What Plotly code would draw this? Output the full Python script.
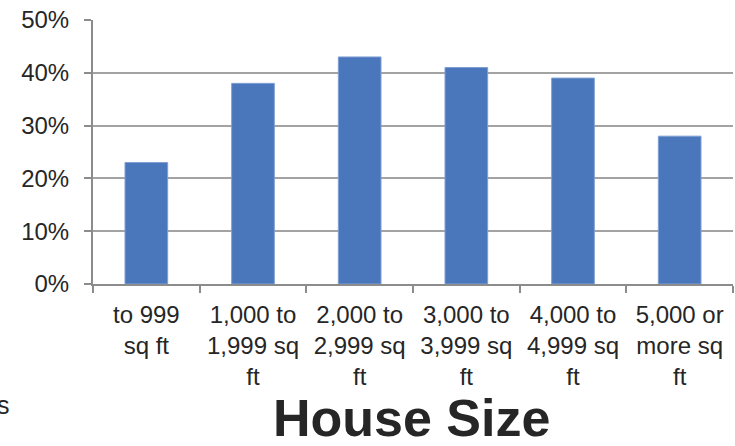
import plotly.graph_objects as go

categories = [
    "to 999<br>sq ft",
    "1,000 to<br>1,999 sq<br>ft",
    "2,000 to<br>2,999 sq<br>ft",
    "3,000 to<br>3,999 sq<br>ft",
    "4,000 to<br>4,999 sq<br>ft",
    "5,000 or<br>more sq<br>ft",
]
values = [0.23, 0.38, 0.43, 0.41, 0.39, 0.28]
y_ticks = [0, 0.1, 0.2, 0.3, 0.4, 0.5]
y_tick_labels = ["0%", "10%", "20%", "30%", "40%", "50%"]
title_text = "House Size"
stray_text = "s"

W, H = 735, 446
L, R, T, B = 93, 2, 20, 162
pw, ph = W - L - R, H - T - B

fig = go.Figure(go.Bar(
    x=categories, y=values,
    marker=dict(color="#4a76bb", line=dict(color="#7e9fd3", width=1)),
    hoverinfo="skip",
))

font = "Liberation Sans, Arial, sans-serif"
fig.update_layout(
    width=W, height=H,
    margin=dict(l=L, r=R, t=T, b=B),
    paper_bgcolor="white", plot_bgcolor="white",
    bargap=0.6, showlegend=False,
    font=dict(family=font, size=23, color="#262626"),
)
fig.update_yaxes(
    range=[0, 0.5], tickvals=y_ticks, ticktext=y_tick_labels,
    showgrid=True, gridcolor="#a3a3a3", gridwidth=1.5,
    showline=True, linecolor="#8c8c8c", linewidth=2,
    ticks="outside", ticklen=7, tickcolor="#8c8c8c", tickwidth=2,
    ticklabelstandoff=10, zeroline=False,
    tickfont=dict(size=24, color="#262626"),
)
fig.update_xaxes(
    showline=True, linecolor="#8c8c8c", linewidth=2,
    ticks="outside", tickson="boundaries", ticklen=7,
    tickcolor="#8c8c8c", tickwidth=2,
    ticklabelstandoff=8,
    tickfont=dict(size=24, color="#262626"),
)

def px_to_paper_x(px):
    return (px - L) / pw

def px_to_paper_y(py):
    return (H - B - py) / ph

fig.add_annotation(
    text=f"<b>{title_text}</b>", xref="paper", yref="paper",
    x=px_to_paper_x(411), y=px_to_paper_y(418), xanchor="center", yanchor="middle",
    showarrow=False, font=dict(family=font, size=52, color="#262626"),
)
fig.add_annotation(
    text=stray_text, xref="paper", yref="paper",
    x=px_to_paper_x(12), y=px_to_paper_y(405), xanchor="right", yanchor="middle",
    showarrow=False, font=dict(family=font, size=25, color="#262626"),
)

fig.write_html("out.html")
